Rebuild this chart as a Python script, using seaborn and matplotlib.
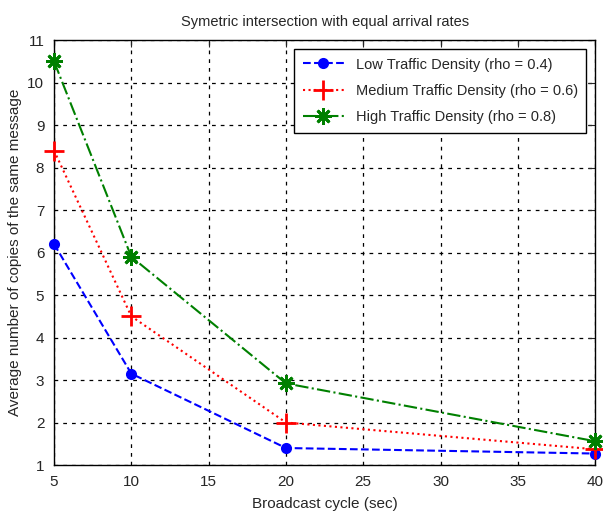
import pandas as pd
import seaborn as sns
import matplotlib.pyplot as plt

cycle = [5, 10, 20, 40]
low = [6.2, 3.15, 1.4, 1.27]
medium = [8.4, 4.5, 2.0, 1.37]
high = [10.5, 5.9, 2.92, 1.56]
labels = ['Low Traffic Density (rho = 0.4)',
          'Medium Traffic Density (rho = 0.6)',
          'High Traffic Density (rho = 0.8)']

sns.set_style("white")
plt.rcParams['font.family'] = ['Liberation Sans', 'DejaVu Sans']

df = pd.DataFrame({'cycle': cycle * 3,
                   'copies': low + medium + high,
                   'series': [labels[0]] * 4 + [labels[1]] * 4 + [labels[2]] * 4})

fig = plt.figure(figsize=(6.03, 5.14), dpi=100)
ax = fig.add_axes([0.0896, 0.0953, 0.8974, 0.8267])

styles = [('blue', '--', 'o', 6), ('red', ':', '+', 14), ('green', '-.', (8, 2, 0), 12)]
for lab, (c, ls, m, ms) in zip(labels, styles):
    sub = df[df['series'] == lab]
    sns.lineplot(data=sub, x='cycle', y='copies', ax=ax, color=c, linestyle=ls,
                 marker=m, markersize=ms, markeredgewidth=2, markeredgecolor=c,
                 linewidth=1.5, label=lab, clip_on=False, zorder=5)

ax.set_xlim(5, 40)
ax.set_ylim(1, 11)
ax.set_xticks(range(5, 41, 5))
ax.set_yticks(range(1, 12))
ax.grid(True, color='black', linestyle=(0, (3, 4)), linewidth=0.9)
ax.tick_params(direction='in', labelsize=11, length=5, pad=7, top=True, right=True)
for s in ax.spines.values():
    s.set_color('black')
    s.set_linewidth(1)
ax.set_xlabel('Broadcast cycle (sec)', fontsize=11, labelpad=6)
ax.set_ylabel('Average number of copies of the same message', fontsize=11, labelpad=4)
ax.set_title('Symetric intersection with equal arrival rates', fontsize=10.5, pad=10)
leg = ax.legend(loc='upper right', fontsize=10.5, fancybox=False, edgecolor='black',
                framealpha=1, handlelength=2.8, borderaxespad=0.6,
                labelspacing=0.85, borderpad=0.6)
leg.get_frame().set_linewidth(1)
leg.set_zorder(10)

fig.savefig('out.png', dpi=100)
